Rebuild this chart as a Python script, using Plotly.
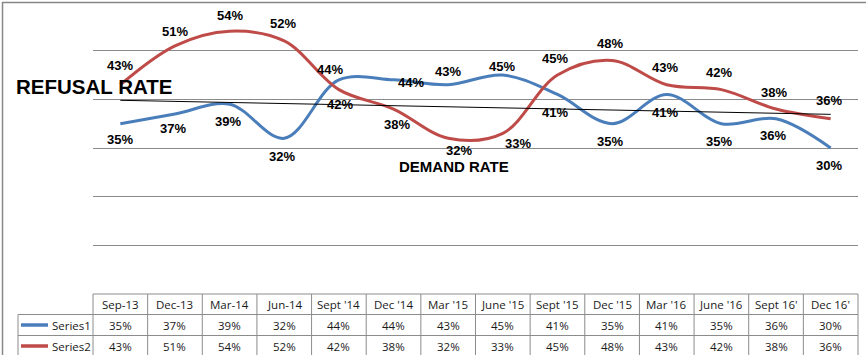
import numpy as np
import plotly.graph_objects as go

# ---------------- data ----------------
categories = ["Sep-13", "Dec-13", "Mar-14", "Jun-14", "Sept '14", "Dec '14", "Mar '15",
              "June '15", "Sept '15", "Dec '15", "Mar '16", "June '16", "Sept 16'", "Dec 16'"]
series1 = [0.35, 0.37, 0.39, 0.32, 0.44, 0.44, 0.43, 0.45, 0.41, 0.35, 0.41, 0.35, 0.36, 0.30]
series2 = [0.43, 0.51, 0.54, 0.52, 0.42, 0.38, 0.32, 0.33, 0.45, 0.48, 0.43, 0.42, 0.38, 0.36]
series_names = ["Series1", "Series2"]
title_top = "REFUSAL RATE"
title_bottom = "DEMAND RATE"

# ---------------- styling ----------------
BLUE = "#4A7EBB"
RED = "#BE4B48"
GRID = "#8a8a8a"
TABLE_LINE = "#8c8c8c"
LABEL_FONT = dict(family="Liberation Sans, Arial", size=13, color="black", weight="bold")
TABLE_FONT = dict(family="Open Sans, Noto Sans", size=11.5, color="#1a1a1a", weight="normal")

# data label offsets (dx, dy) in pixels, dy positive = downwards
off1 = [(0, 16), (-2, 15), (-2, 17), (-2, 18), (-9, -10), (17, 3), (0, -13), (-1, -9),
        (-2, 18), (-2, 18), (-2, 18), (-2, 18), (-3, 17), (-2, 17)]
off2 = [(0, -19), (0, -14), (0, -16), (-1, -17), (1, 15), (3, 15), (11, 12), (15, 10),
        (-2, -17), (-2, -17), (-2, -17), (-2, -17), (-2, -17), (-2, -18)]

W, H = 866, 355
L, R, T, B = 93, 858, 2, 294


def px_x(px):
    return (px - L) / (R - L)


def px_y(py):
    return (B - py) / (B - T)


def pct(v):
    return f"{round(v * 100)}%"


fig = go.Figure()
idx = list(range(len(categories)))

fig.add_trace(go.Scatter(x=categories, y=series1, mode="lines", name=series_names[0],
                         line=dict(color=BLUE, width=3, shape="spline", smoothing=1),
                         hoverinfo="skip"))
fig.add_trace(go.Scatter(x=categories, y=series2, mode="lines", name=series_names[1],
                         line=dict(color=RED, width=3, shape="spline", smoothing=1),
                         hoverinfo="skip"))

# linear trendline of Series1
coef = np.polyfit(idx, series1, 1)
trend = np.polyval(coef, [idx[0], idx[-1]])
fig.add_trace(go.Scatter(x=[categories[0], categories[-1]], y=list(trend), mode="lines",
                         line=dict(color="black", width=1), hoverinfo="skip"))

annotations = []
for i, (v, (dx, dy)) in enumerate(zip(series1, off1)):
    annotations.append(dict(x=i, y=v, xref="x", yref="y", text=pct(v), showarrow=False,
                            xshift=dx, yshift=-dy, font=LABEL_FONT))
for i, (v, (dx, dy)) in enumerate(zip(series2, off2)):
    annotations.append(dict(x=i, y=v, xref="x", yref="y", text=pct(v), showarrow=False,
                            xshift=dx, yshift=-dy, font=LABEL_FONT))

annotations.append(dict(x=px_x(14), y=px_y(86), xref="paper", yref="paper", text=title_top,
                        showarrow=False, xanchor="left", yanchor="middle",
                        font=dict(family="Liberation Sans, Arial", size=20.5, color="black", weight="bold")))
annotations.append(dict(x=px_x(453.5), y=px_y(166), xref="paper", yref="paper", text=title_bottom,
                        showarrow=False, xanchor="center", yanchor="middle",
                        font=dict(family="Liberation Sans, Arial", size=15, color="black", weight="bold")))

# ---------------- data table ----------------
row_tops = [294, 314.5, 335.5, 356.5]
shapes = []
n = len(categories)
for k in range(n + 1):
    shapes.append(dict(type="line", xref="paper", yref="paper", x0=k / n, x1=k / n,
                       y0=px_y(row_tops[0]), y1=px_y(row_tops[-1]),
                       line=dict(color=TABLE_LINE, width=1)))
shapes.append(dict(type="line", xref="paper", yref="paper", x0=px_x(18), x1=px_x(18),
                   y0=px_y(row_tops[1]), y1=px_y(row_tops[-1]), line=dict(color=TABLE_LINE, width=1)))
shapes.append(dict(type="line", xref="paper", yref="paper", x0=0, x1=1,
                   y0=px_y(row_tops[0]), y1=px_y(row_tops[0]), line=dict(color=TABLE_LINE, width=1)))
for rt in row_tops[1:]:
    shapes.append(dict(type="line", xref="paper", yref="paper", x0=px_x(18), x1=1,
                       y0=px_y(rt), y1=px_y(rt), line=dict(color=TABLE_LINE, width=1)))

for i, c in enumerate(categories):
    annotations.append(dict(x=i, y=px_y((row_tops[0] + row_tops[1]) / 2), xref="x", yref="paper",
                            text=c, showarrow=False, font=TABLE_FONT, yanchor="middle"))
for r, (vals, name, col) in enumerate(zip([series1, series2], series_names, [BLUE, RED])):
    yc = px_y((row_tops[r + 1] + row_tops[r + 2]) / 2)
    for i, v in enumerate(vals):
        annotations.append(dict(x=i, y=yc, xref="x", yref="paper", text=pct(v), showarrow=False,
                                font=TABLE_FONT, yanchor="middle"))
    shapes.append(dict(type="line", xref="paper", yref="paper", x0=px_x(21), x1=px_x(48),
                       y0=yc, y1=yc, line=dict(color=col, width=3.5)))
    annotations.append(dict(x=px_x(50), y=yc, xref="paper", yref="paper", text=name, showarrow=False,
                            xanchor="left", yanchor="middle", font=TABLE_FONT))

# chart border (left and top)
shapes.append(dict(type="line", xref="paper", yref="paper", x0=px_x(2.5), x1=px_x(2.5),
                   y0=px_y(2), y1=px_y(360), line=dict(color="#878787", width=1.5)))
shapes.append(dict(type="line", xref="paper", yref="paper", x0=px_x(2), x1=px_x(870),
                   y0=px_y(2.5), y1=px_y(2.5), line=dict(color="#878787", width=1.5)))

fig.update_layout(
    width=W, height=H,
    margin=dict(l=L, r=W - R, t=T, b=H - B, pad=0),
    plot_bgcolor="white", paper_bgcolor="white",
    showlegend=False,
    xaxis=dict(type="category", range=[-0.5, n - 0.5], showgrid=False, showline=False,
               zeroline=False, showticklabels=False, ticks=""),
    yaxis=dict(range=[0, 0.6], tickvals=[0.1, 0.2, 0.3, 0.4, 0.5], showgrid=True,
               gridcolor=GRID, gridwidth=1, showticklabels=False, zeroline=False,
               showline=False, ticks=""),
    annotations=annotations,
    shapes=shapes,
)

fig.write_html("out.html", config={"displayModeBar": False},
               post_script="document.body.style.margin='0';")
